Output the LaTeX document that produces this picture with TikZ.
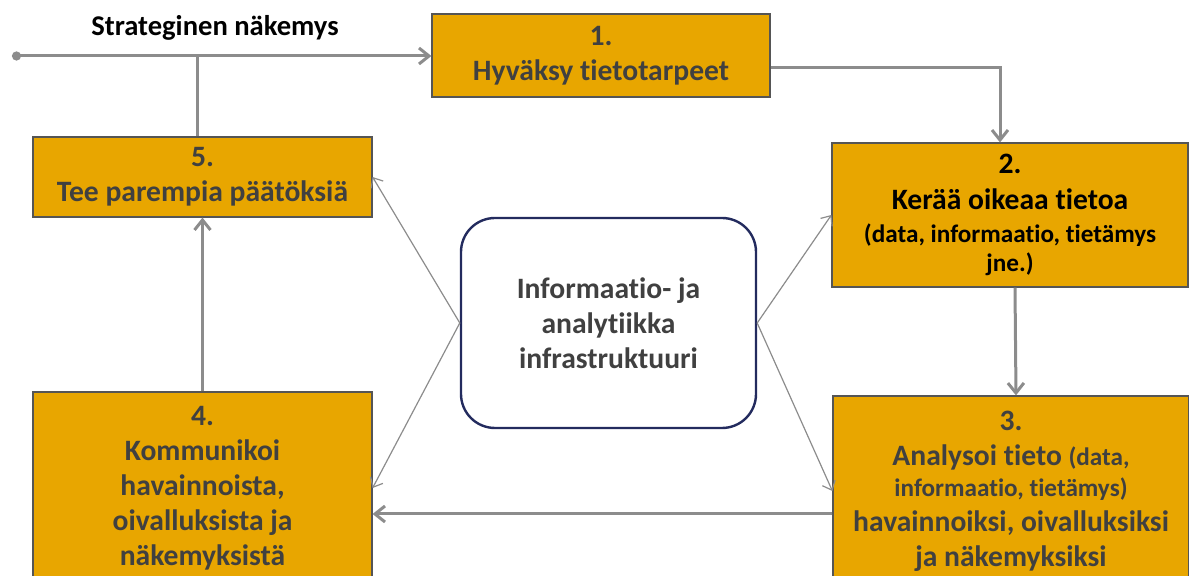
\documentclass[tikz,border=0pt]{standalone}
\usepackage{fontspec}
\setmainfont{Carlito}[Ligatures=NoCommon]
\usetikzlibrary{arrows.meta}
\definecolor{boxorange}{HTML}{E8A600}
\definecolor{boxline}{HTML}{555555}
\definecolor{txtgray}{HTML}{404040}
\definecolor{arrowgray}{HTML}{8C8C8C}
\definecolor{infonavy}{HTML}{232B5E}

\begin{document}
\begin{tikzpicture}[x=0.5pt,y=-0.5pt,
    stepbox/.style={draw=boxline,line width=0.6pt,fill=boxorange,text=txtgray,
        font=\bfseries\fontsize{14.8}{17.5}\selectfont,align=center,inner sep=0pt},
    infobox/.style={draw=infonavy,line width=1.2pt,rounded corners=17pt,text=txtgray,
        font=\bfseries\fontsize{14.8}{17.5}\selectfont,align=center,
        minimum width=147.5pt,minimum height=105pt},
    flow/.style={draw=arrowgray,line width=1.5pt,-{Straight Barb[length=5pt,width=8pt]}},
    link/.style={draw=arrowgray,line width=0.6pt,-{Straight Barb[length=4pt,width=7pt]}}]
    \useasboundingbox (0,0) rectangle (1189,576);

    % the five steps
    \node[stepbox,minimum width=169pt,minimum height=41.5pt] (s1) at (601,55.5) {1.\\Hyväksy tietotarpeet};
    \node[stepbox,text=black,minimum width=178pt,minimum height=72pt] (s2) at (1010,215)
        {2.\\[0.5pt]Kerää oikeaa tietoa\\[-1pt]{\fontsize{12.6}{15}\selectfont (data, informaatio, tietämys}\\[-3pt]{\fontsize{12.6}{15}\selectfont jne.)}};
    \node[stepbox,minimum width=178pt,minimum height=95pt] (s3) at (1011,491)
        {3.\\Analysoi tieto {\fontsize{12.6}{15}\selectfont (data,}\\[-2pt]{\fontsize{12.6}{15}\selectfont informaatio, tietämys)}\\havainnoiksi, oivalluksiksi\\ja näkemyksiksi};
    \node[stepbox,minimum width=169.5pt,minimum height=96pt] (s4) at (202.5,488)
        {4.\\Kommunikoi\\havainnoista,\\oivalluksista ja\\näkemyksistä};
    \node[stepbox,minimum width=169.5pt,minimum height=40pt] (s5) at (202.5,177) {5.\\Tee parempia päätöksiä};

    % infrastructure in the middle
    \node[infobox] (info) at (608.5,323) {Informaatio- ja\\analytiikka\\infrastruktuuri};

    \node[font=\bfseries\fontsize{14.3}{16}\selectfont] (vision) at (215,28) {Strateginen näkemys};
    \coordinate (start) at (12,56);

    % main cycle
    \draw[flow,{Circle[length=4.5pt]}-{Straight Barb[length=5pt,width=8pt]}] (start) -- (start -| s1.west);
    \draw[draw=arrowgray,line width=1.5pt] ([xshift=-2.5pt]s5.north) -- ([xshift=-2.5pt]s5.north |- start);
    \draw[flow] ([yshift=-6pt]s1.east) -| ([xshift=-5pt]s2.north);
    \draw[flow] ([xshift=2.5pt]s2.south) -- ([xshift=2.5pt]s3.north);
    \draw[flow] ([yshift=-11.5pt]s3.west) -- ([yshift=-11.5pt]s3.west -| s4.east);
    \draw[flow] (s4.north) -- (s5.south);

    % links from the infrastructure
    \draw[link] (info.west) -- (s5.east);
    \draw[link] (info.west) -- (s4.east);
    \draw[link] (info.east) -- (s2.west);
    \draw[link] (info.east) -- (s3.west);
\end{tikzpicture}
\end{document}
